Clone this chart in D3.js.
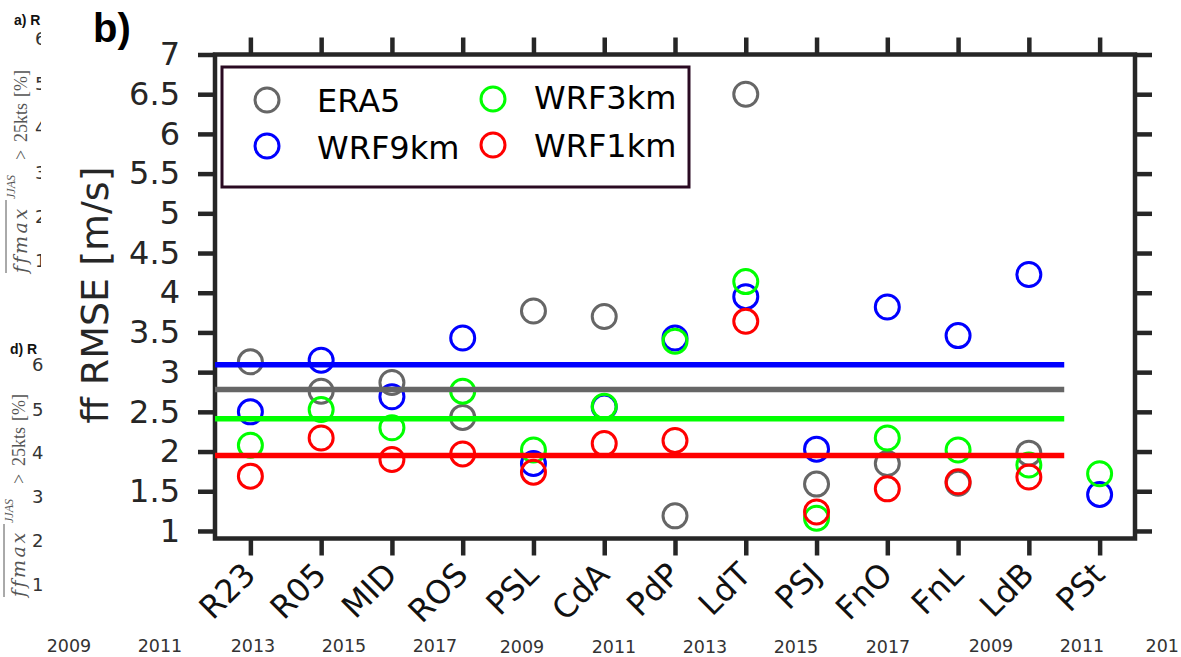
<!DOCTYPE html>
<html>
<head>
<meta charset="utf-8">
<script src="https://cdn.jsdelivr.net/npm/d3@7"></script>
<style>
  html, body { margin: 0; padding: 0; background: #fff; }
  svg { display: block; }
</style>
</head>
<body>
<svg id="chart" width="1181" height="657"></svg>
<script>
// Stations along the coast
const stations = ["R23", "R05", "MID", "ROS", "PSL", "CdA", "PdP", "LdT", "PSJ", "FnO", "FnL", "LdB", "PSt"];

// Wind-speed RMSE [m/s] per station (null = no value)
const era5    = [3.13, 2.76, 2.87, 2.43, 3.77, 3.70, 1.19, 6.50, 1.59, 1.85, 1.60, 1.98, null];
const wrf9km  = [2.50, 3.15, 2.69, 3.43, 1.85, 2.56, 3.43, 3.95, 2.03, 3.82, 3.46, 4.23, 1.46];
const wrf3km  = [2.08, 2.53, 2.30, 2.76, 2.02, 2.57, 3.39, 4.14, 1.16, 2.17, 2.02, 1.83, 1.72];
const wrf1km  = [1.69, 2.17, 1.90, 1.97, 1.74, 2.10, 2.14, 3.64, 1.24, 1.53, 1.62, 1.68, null];

const seriesNames  = ["ERA5", "WRF9km", "WRF3km", "WRF1km"];
const seriesColors = ["#666666", "#0000ff", "#00ff00", "#ff0000"];

// Stations that enter the mean lines (all but the last one)
const meanStations = stations.slice(0, 12);

const yTicks = [1, 1.5, 2, 2.5, 3, 3.5, 4, 4.5, 5, 5.5, 6, 6.5, 7];

// Neighbouring panels' edge labels
const yearLabelsA = ["2009", "2011", "2013", "2015", "2017"];
const yearLabelsB = ["2009", "2011", "2013", "2015", "2017"];
const yearLabelsC = ["2009", "2011", "201"];
const pctTicks = ["6", "5", "4", "3", "2", "1"];

const svg = d3.select("#chart");
svg.append("rect").attr("width", 1181).attr("height", 657).attr("fill", "#fff");

const axisColor = "#262626";
const L = 215, R = 1135, T = 54.5, B = 538.5;

const x = d3.scalePoint().domain(stations).range([L, R]).padding(0.5);
const y = d3.scaleLinear().domain([0.905, 7]).range([B, T]);

/* ---------- fragments of the neighbouring panels ---------- */
const frag = svg.append("g");
svg.append("clipPath").attr("id", "clipA")
  .append("rect").attr("x", 0).attr("y", 0).attr("width", 41).attr("height", 320);

function pctLabel(g, bx, by) {
  const t = g.append("g").attr("transform", `translate(${bx},${by}) rotate(-90)`);
  const txt = t.append("text")
    .attr("font-family", "Liberation Serif, serif")
    .attr("font-size", 18).attr("fill", "#555");
  txt.append("tspan").attr("x", 0).attr("y", 0)
    .attr("font-family", "DejaVu Serif, serif")
    .attr("font-style", "italic").attr("font-size", 19).attr("letter-spacing", 2.5).text("ffmax");
  txt.append("tspan").attr("x", 74).attr("y", -12)
    .attr("font-style", "italic").attr("font-size", 12).text("JJAS");
  txt.append("tspan").attr("x", 113).attr("y", 0).text(">");
  txt.append("tspan").attr("x", 131).attr("y", 0).text("25kts");
  txt.append("tspan").attr("x", 176).attr("y", 0).text("[%]");
  t.append("line").attr("x1", 0).attr("x2", 73).attr("y1", -21).attr("y2", -21)
    .attr("stroke", "#555").attr("stroke-width", 1);
}

// panel a (partly hidden)
const fa = frag.append("g").attr("clip-path", "url(#clipA)");
fa.append("text").attr("x", 14).attr("y", 25)
  .attr("font-family", "Liberation Sans, Arial, sans-serif").attr("font-weight", "bold")
  .attr("font-size", 14).attr("fill", "#111").text("a) R");
const aYs = [39, 84, 128, 173, 217, 261];
fa.selectAll("text.pa").data(pctTicks).join("text").attr("class", "pa")
  .attr("x", 35).attr("y", (d, i) => aYs[i]).attr("dy", "0.36em")
  .attr("font-family", "DejaVu Sans, sans-serif").attr("font-size", 18)
  .attr("fill", "#333").text(d => d);
pctLabel(fa, 27, 273);

// panel d
frag.append("text").attr("x", 10).attr("y", 354)
  .attr("font-family", "Liberation Sans, Arial, sans-serif").attr("font-weight", "bold")
  .attr("font-size", 14).attr("fill", "#111").text("d) R");
const dYs = [365, 410, 453, 497, 541, 585];
frag.selectAll("text.pd").data(pctTicks).join("text").attr("class", "pd")
  .attr("x", 32).attr("y", (d, i) => dYs[i]).attr("dy", "0.36em")
  .attr("font-family", "DejaVu Sans, sans-serif").attr("font-size", 18)
  .attr("fill", "#333").text(d => d);
pctLabel(frag, 25, 597);

// year tick labels of the panels underneath
function years(labels, xs, base, anchor) {
  frag.selectAll(null).data(labels).join("text")
    .attr("x", (d, i) => xs[i]).attr("y", base)
    .attr("text-anchor", (d, i) => (anchor && anchor[i]) || "middle")
    .attr("font-family", "DejaVu Sans, sans-serif").attr("font-size", 17.5)
    .attr("fill", "#333").text(d => d);
}
years(yearLabelsA, [69, 160, 253, 344, 435], 652);
years(yearLabelsB, [522, 614, 705, 796, 888], 652.5);
years(yearLabelsC, [991, 1082, 1179], 652, [null, null, "end"]);

/* ---------- panel b ---------- */
const g = svg.append("g");

// ticks on all four sides via d3 axes
function styleAxis(sel) {
  sel.select(".domain").remove();
  sel.selectAll(".tick line").attr("stroke", axisColor).attr("stroke-width", 4.5);
}
const tickLen = 17;

g.append("g").attr("transform", `translate(${L},0)`)
  .call(d3.axisLeft(y).tickValues(yTicks).tickSize(tickLen).tickPadding(35 - tickLen)
        .tickFormat(d3.format("~g")))
  .call(styleAxis)
  .call(s => s.selectAll(".tick text")
    .attr("font-family", "DejaVu Sans, sans-serif").attr("font-size", 32)
    .attr("fill", axisColor));

g.append("g").attr("transform", `translate(${R},0)`)
  .call(d3.axisRight(y).tickValues(yTicks).tickSize(tickLen).tickFormat(""))
  .call(styleAxis);

g.append("g").attr("transform", `translate(0,${T})`)
  .call(d3.axisTop(x).tickSize(tickLen).tickFormat(""))
  .call(styleAxis);

g.append("g").attr("transform", `translate(0,${B})`)
  .call(d3.axisBottom(x).tickSize(tickLen).tickFormat(""))
  .call(styleAxis);

// rotated station labels
g.selectAll("text.station").data(stations).join("text").attr("class", "station")
  .attr("transform", d => `translate(${x(d) + 7},${B + 38}) rotate(-45)`)
  .attr("text-anchor", "end")
  .attr("font-family", "DejaVu Sans, sans-serif").attr("font-size", 32)
  .attr("fill", "#111").text(d => d);

// frame
g.append("rect").attr("x", L).attr("y", T).attr("width", R - L).attr("height", B - T)
  .attr("fill", "none").attr("stroke", axisColor).attr("stroke-width", 4.5);

// y label
g.append("text")
  .attr("transform", `translate(108,295) rotate(-90)`)
  .attr("text-anchor", "middle")
  .attr("font-family", "DejaVu Sans, sans-serif").attr("font-size", 38)
  .attr("fill", axisColor).text("ff RMSE [m/s]");

// panel letter
svg.append("text").attr("x", 93).attr("y", 42)
  .attr("font-family", "Liberation Sans, Arial, sans-serif").attr("font-weight", "bold")
  .attr("font-size", 40).attr("fill", "#000").text("b)");

// points
const allSeries = [era5, wrf9km, wrf3km, wrf1km];
const r = 12;
allSeries.forEach((vals, si) => {
  const pts = stations.map((s, i) => ({ s, v: vals[i] })).filter(d => d.v != null);
  g.append("g").selectAll("circle").data(pts).join("circle")
    .attr("cx", d => x(d.s)).attr("cy", d => y(d.v)).attr("r", r)
    .attr("fill", "none").attr("stroke", seriesColors[si]).attr("stroke-width", 3);
});

// mean lines across the first twelve stations
const xEnd = (x(stations[11]) + x(stations[12])) / 2;
allSeries.forEach((vals, si) => {
  const m = d3.mean(vals.slice(0, meanStations.length));
  g.append("line")
    .attr("x1", L).attr("x2", xEnd).attr("y1", y(m)).attr("y2", y(m))
    .attr("stroke", seriesColors[si]).attr("stroke-width", 5.5);
});

// legend
const lg = svg.append("g");
lg.append("rect").attr("x", 222).attr("y", 67).attr("width", 467).attr("height", 120)
  .attr("fill", "#fff").attr("stroke", "#2a0a22").attr("stroke-width", 3);
const legPos = [
  { cx: 267, cy: 100, tx: 317, ty: 112 },
  { cx: 267, cy: 146, tx: 317, ty: 159 },
  { cx: 493, cy: 99,  tx: 534, ty: 109 },
  { cx: 493, cy: 145, tx: 534, ty: 157 }
];
seriesNames.forEach((name, i) => {
  const p = legPos[i];
  lg.append("circle").attr("cx", p.cx).attr("cy", p.cy).attr("r", r)
    .attr("fill", "none").attr("stroke", seriesColors[i]).attr("stroke-width", 3);
  lg.append("text").attr("x", p.tx).attr("y", p.ty)
    .attr("font-family", "DejaVu Sans, sans-serif").attr("font-size", 32)
    .attr("fill", "#000").text(name);
});
</script>
</body>
</html>
